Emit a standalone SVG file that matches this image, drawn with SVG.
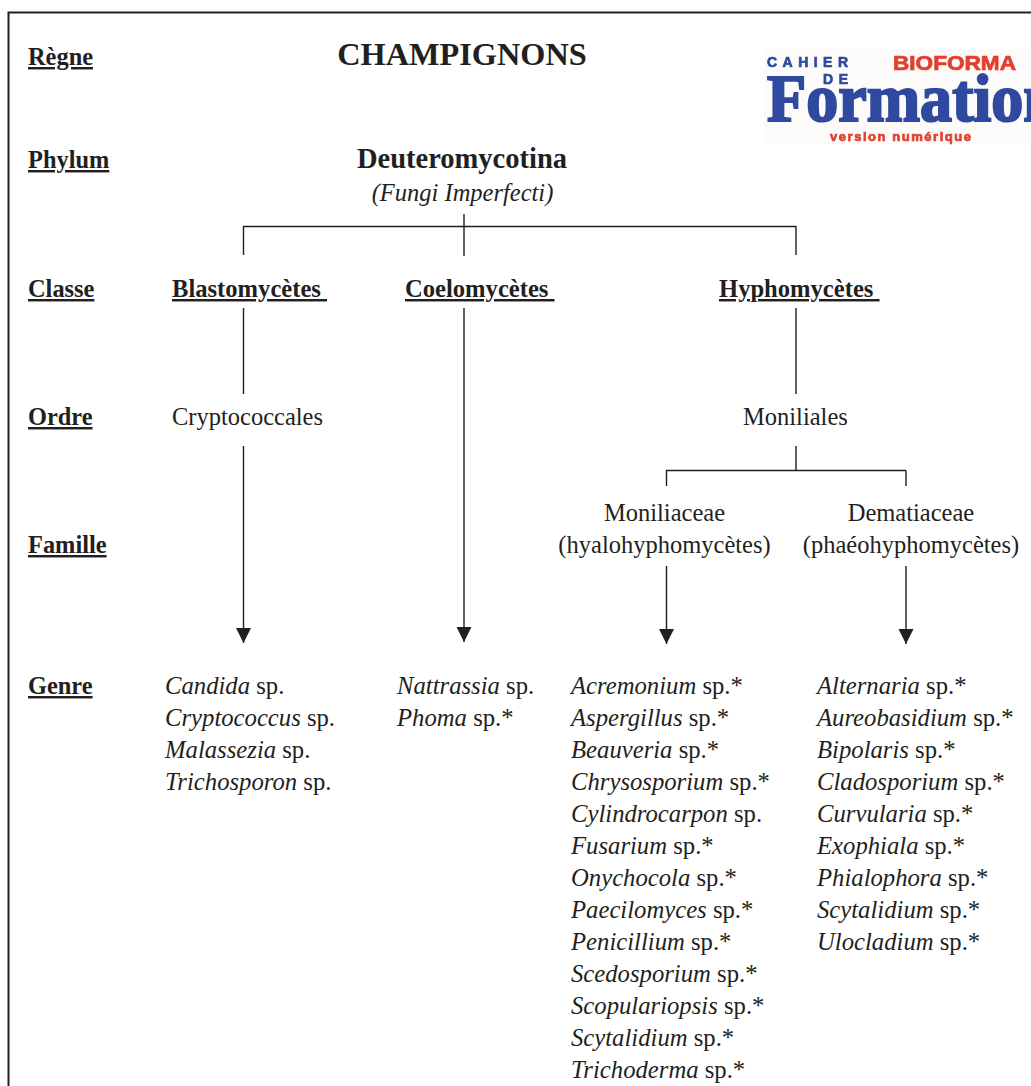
<svg xmlns="http://www.w3.org/2000/svg" width="1031" height="1086" viewBox="0 0 1031 1086">
<style>
text{font-family:"Liberation Serif","Times New Roman",serif;fill:#231f20;font-size:24.5px}
.rank{font-size:24.4px;font-weight:bold;text-decoration:underline}
.cls{font-size:24.6px;font-weight:bold;text-decoration:underline}
.m{text-anchor:middle}
.i{font-style:italic}
.gn{font-size:24.7px}
.g tspan{font-style:normal}
.ln{fill:none;stroke:#231f20;stroke-width:1.4}
.b{stroke:#2f4a9f;stroke-width:.7}
.r{stroke:#e2402f;stroke-width:.7}
</style>
<defs>
<marker id="arr" markerUnits="userSpaceOnUse" markerWidth="16" markerHeight="16" refX="8" refY="15.500" orient="0" viewBox="0 0 16 16"><path d="M0.5 0.500H15.500L8 15.500Z" fill="#231f20"/></marker>
<filter id="soft" x="-5%" y="-5%" width="110%" height="110%"><feGaussianBlur stdDeviation="0.5"/></filter>
</defs>
<rect width="1031" height="1086" fill="#fff"/>
<path d="M1031 12.500H8.500V1086" fill="none" stroke="#231f20" stroke-width="2"/>
<g id="connectors">
<path class="ln" d="M243.500 255V226.500H796V255M464 214V256"/>
<path class="ln" d="M243.500 308V394M796 308V394M796 446V470.500H666.500V486M906 470.500H796M906 470.500V486"/>
<path class="ln" marker-end="url(#arr)" d="M243.500 446V643"/>
<path class="ln" marker-end="url(#arr)" d="M464 308V642"/>
<path class="ln" marker-end="url(#arr)" d="M666.500 566V644"/>
<path class="ln" marker-end="url(#arr)" d="M906 566V644"/>
</g>
<g id="ranks">
<text class="rank" x="28" y="65">Règne</text>
<text class="rank" x="28" y="168">Phylum</text>
<text class="rank" x="28" y="297">Classe</text>
<text class="rank" x="28" y="425">Ordre</text>
<text class="rank" x="28" y="553">Famille</text>
<text class="rank" x="28" y="694">Genre</text>
</g>
<g id="node-champignons"><text class="m" x="462" y="65" style="font-size:32.300px;font-weight:bold">CHAMPIGNONS</text></g>
<g id="node-deuteromycotina"><text class="m" x="462" y="168" style="font-size:28.500px;font-weight:bold">Deuteromycotina</text><text class="m i" x="462.500" y="201">(Fungi Imperfecti)</text></g>
<g id="node-blastomycetes"><text class="cls" x="172" y="297" xml:space="preserve">Blastomycètes </text></g>
<g id="node-coelomycetes"><text class="cls" x="405" y="297" xml:space="preserve">Coelomycètes </text></g>
<g id="node-hyphomycetes"><text class="cls" x="719" y="297" xml:space="preserve">Hyphomycètes </text></g>
<g id="node-cryptococcales"><text x="172" y="425">Cryptococcales</text></g>
<g id="node-moniliales"><text x="743" y="425">Moniliales</text></g>
<g id="node-moniliaceae"><text class="m" x="664.500" y="521">Moniliaceae</text><text class="m" x="664.500" y="553">(hyalohyphomycètes)</text></g>
<g id="node-dematiaceae"><text class="m" x="911" y="521">Dematiaceae</text><text class="m" x="911" y="553">(phaéohyphomycètes)</text></g>
<g id="genre-blasto" class="g">
<text class="i gn" x="165" y="694">Candida <tspan>sp.</tspan></text>
<text class="i gn" x="165" y="726">Cryptococcus <tspan>sp.</tspan></text>
<text class="i gn" x="165" y="758">Malassezia <tspan>sp.</tspan></text>
<text class="i gn" x="165" y="790">Trichosporon <tspan>sp.</tspan></text>
</g>
<g id="genre-coelo" class="g">
<text class="i gn" x="397" y="694">Nattrassia <tspan>sp.</tspan></text>
<text class="i gn" x="397" y="726">Phoma <tspan>sp.*</tspan></text>
</g>
<g id="genre-monil" class="g">
<text class="i gn" x="571" y="694">Acremonium <tspan>sp.*</tspan></text>
<text class="i gn" x="571" y="726">Aspergillus <tspan>sp.*</tspan></text>
<text class="i gn" x="571" y="758">Beauveria <tspan>sp.*</tspan></text>
<text class="i gn" x="571" y="790">Chrysosporium <tspan>sp.*</tspan></text>
<text class="i gn" x="571" y="822">Cylindrocarpon <tspan>sp.</tspan></text>
<text class="i gn" x="571" y="854">Fusarium <tspan>sp.*</tspan></text>
<text class="i gn" x="571" y="886">Onychocola <tspan>sp.*</tspan></text>
<text class="i gn" x="571" y="918">Paecilomyces <tspan>sp.*</tspan></text>
<text class="i gn" x="571" y="950">Penicillium <tspan>sp.*</tspan></text>
<text class="i gn" x="571" y="982">Scedosporium <tspan>sp.*</tspan></text>
<text class="i gn" x="571" y="1014">Scopulariopsis <tspan>sp.*</tspan></text>
<text class="i gn" x="571" y="1046">Scytalidium <tspan>sp.*</tspan></text>
<text class="i gn" x="571" y="1078">Trichoderma <tspan>sp.*</tspan></text>
</g>
<g id="genre-demat" class="g">
<text class="i gn" x="817" y="694">Alternaria <tspan>sp.*</tspan></text>
<text class="i gn" x="817" y="726">Aureobasidium <tspan>sp.*</tspan></text>
<text class="i gn" x="817" y="758">Bipolaris <tspan>sp.*</tspan></text>
<text class="i gn" x="817" y="790">Cladosporium <tspan>sp.*</tspan></text>
<text class="i gn" x="817" y="822">Curvularia <tspan>sp.*</tspan></text>
<text class="i gn" x="817" y="854">Exophiala <tspan>sp.*</tspan></text>
<text class="i gn" x="817" y="886">Phialophora <tspan>sp.*</tspan></text>
<text class="i gn" x="817" y="918">Scytalidium <tspan>sp.*</tspan></text>
<text class="i gn" x="817" y="950">Ulocladium <tspan>sp.*</tspan></text>
</g>
<g id="logo" filter="url(#soft)">
<rect x="764" y="49" width="267" height="95" fill="#fdfbf9"/>
<text class="b" x="767" y="67" textLength="81" style="font-family:'Liberation Sans',sans-serif;font-size:14px;font-weight:bold;fill:#2f4a9f">CAHIER</text>
<text class="b" x="823" y="84" textLength="25" style="font-family:'Liberation Sans',sans-serif;font-size:14px;font-weight:bold;fill:#2f4a9f">DE</text>
<text class="r" x="893" y="70" textLength="123" lengthAdjust="spacingAndGlyphs" style="font-family:'Liberation Sans',sans-serif;font-size:19.500px;font-weight:bold;fill:#e2402f">BIOFORMA</text>
<text x="767" y="121" style="font-size:68px;font-weight:bold;fill:#2f4a9f;stroke:#2f4a9f;stroke-width:2.200" textLength="292" lengthAdjust="spacingAndGlyphs">Formation</text>
<text class="r" x="830" y="141" textLength="141" style="font-family:'Liberation Sans',sans-serif;font-size:13px;font-weight:bold;fill:#e2402f">version numérique</text>
</g>
</svg>
